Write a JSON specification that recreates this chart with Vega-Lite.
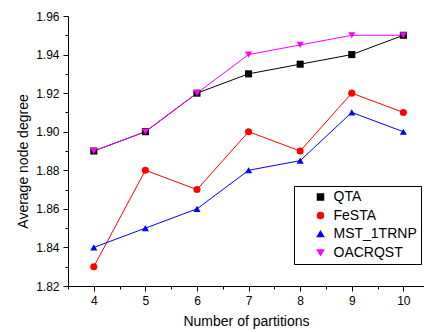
{
  "$schema": "https://vega.github.io/schema/vega-lite/v6.json",
  "autosize": "none",
  "padding": {"left": 68, "top": 16, "right": 0, "bottom": 46},
  "width": 356,
  "height": 270,
  "background": "white",
  "config": {
    "view": {"stroke": null},
    "font": "Arial",
    "axis": {"grid": false, "domainColor": "black", "tickColor": "black", "labelColor": "black", "titleColor": "black", "labelFont": "Arial", "titleFont": "Arial", "labelFontSize": 12, "titleFontSize": 14, "titleFontWeight": "normal"},
    "legend": {"labelFont": "Arial"}
  },
  "data": {"values": [
    {"series": "QTA", "p": 4, "deg": 1.89},
    {"series": "QTA", "p": 5, "deg": 1.90},
    {"series": "QTA", "p": 6, "deg": 1.92},
    {"series": "QTA", "p": 7, "deg": 1.93},
    {"series": "QTA", "p": 8, "deg": 1.935},
    {"series": "QTA", "p": 9, "deg": 1.94},
    {"series": "QTA", "p": 10, "deg": 1.95},
    {"series": "FeSTA", "p": 4, "deg": 1.83},
    {"series": "FeSTA", "p": 5, "deg": 1.88},
    {"series": "FeSTA", "p": 6, "deg": 1.87},
    {"series": "FeSTA", "p": 7, "deg": 1.90},
    {"series": "FeSTA", "p": 8, "deg": 1.89},
    {"series": "FeSTA", "p": 9, "deg": 1.92},
    {"series": "FeSTA", "p": 10, "deg": 1.91},
    {"series": "MST_1TRNP", "p": 4, "deg": 1.84},
    {"series": "MST_1TRNP", "p": 5, "deg": 1.85},
    {"series": "MST_1TRNP", "p": 6, "deg": 1.86},
    {"series": "MST_1TRNP", "p": 7, "deg": 1.88},
    {"series": "MST_1TRNP", "p": 8, "deg": 1.885},
    {"series": "MST_1TRNP", "p": 9, "deg": 1.91},
    {"series": "MST_1TRNP", "p": 10, "deg": 1.90},
    {"series": "OACRQST", "p": 4, "deg": 1.89},
    {"series": "OACRQST", "p": 5, "deg": 1.90},
    {"series": "OACRQST", "p": 6, "deg": 1.92},
    {"series": "OACRQST", "p": 7, "deg": 1.94},
    {"series": "OACRQST", "p": 8, "deg": 1.945},
    {"series": "OACRQST", "p": 9, "deg": 1.95},
    {"series": "OACRQST", "p": 10, "deg": 1.95}
  ]},
  "resolve": {"axis": {"x": "independent", "y": "independent"}},
  "layer": [
    {
      "mark": {"type": "line", "strokeWidth": 1},
      "encoding": {
        "x": {"field": "p", "type": "quantitative", "scale": {"domain": [3.5, 10.4], "nice": false, "zero": false},
              "axis": {"title": "Number of partitions", "values": [4, 5, 6, 7, 8, 9, 10], "tickSize": 5, "labelPadding": 4, "titlePadding": 8, "labelFlush": false}},
        "y": {"field": "deg", "type": "quantitative", "scale": {"domain": [1.82, 1.96], "nice": false, "zero": false},
              "axis": {"title": "Average node degree", "values": [1.82, 1.84, 1.86, 1.88, 1.90, 1.92, 1.94, 1.96], "format": ".2f", "tickSize": 5, "labelPadding": 4, "titlePadding": 5, "titleY": 145, "labelFlush": false}},
        "color": {"field": "series", "type": "nominal",
                  "scale": {"domain": ["QTA", "FeSTA", "MST_1TRNP", "OACRQST"], "range": ["#000000", "#ff0000", "#0000ff", "#ff00ff"]},
                  "legend": {"title": null, "orient": "none", "legendX": 226, "legendY": 170, "strokeColor": "black", "fillColor": "white", "padding": 4,
                             "labelFontSize": 14, "labelColor": "black", "symbolSize": 36, "symbolOffset": 15.5, "labelOffset": 6, "rowPadding": 4.5,
                             "symbolOpacity": 1}}
      }
    },
    {
      "mark": {"type": "point", "filled": true, "opacity": 1},
      "encoding": {
        "x": {"field": "p", "type": "quantitative",
              "axis": {"title": null, "labels": false, "domain": false, "values": [3.5, 4.5, 5.5, 6.5, 7.5, 8.5, 9.5], "tickSize": 3, "orient": "bottom"}},
        "y": {"field": "deg", "type": "quantitative",
              "axis": {"title": null, "labels": false, "domain": false, "values": [1.83, 1.85, 1.87, 1.89, 1.91, 1.93, 1.95], "tickSize": 3, "orient": "left"}},
        "color": {"field": "series", "type": "nominal"},
        "shape": {"field": "series", "type": "nominal",
                  "scale": {"domain": ["QTA", "FeSTA", "MST_1TRNP", "OACRQST"], "range": ["square", "circle", "triangle-up", "triangle-down"]}},
        "size": {"value": 50}
      }
    }
  ]
}
